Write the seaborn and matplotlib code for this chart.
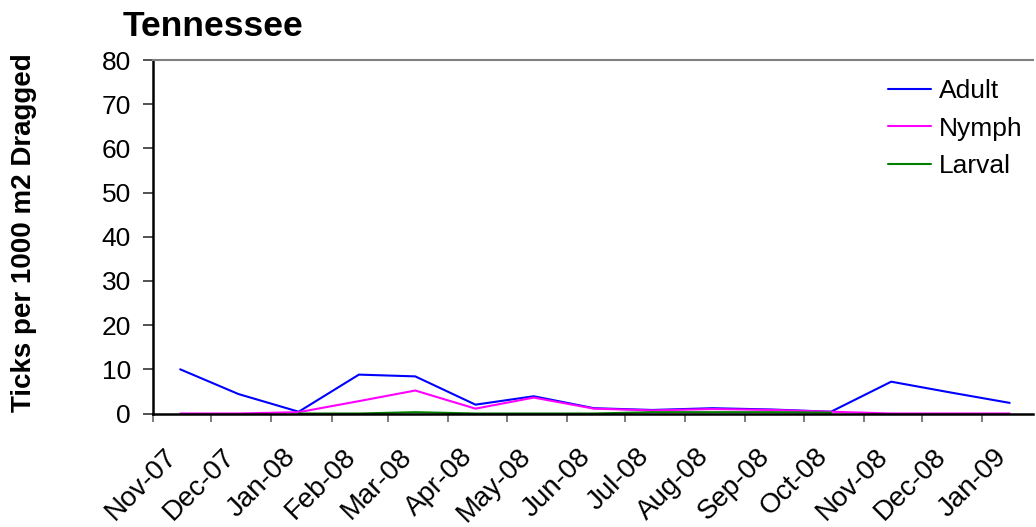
import numpy as np
import pandas as pd
import matplotlib
matplotlib.use("Agg")
import matplotlib.pyplot as plt
import matplotlib.dates as mdates
from matplotlib.transforms import ScaledTranslation
import seaborn as sns

# Monthly drag sampling dates (mid-month)
adult_dates = ["2007-11-15", "2007-12-15", "2008-01-15", "2008-02-15", "2008-03-15",
               "2008-04-15", "2008-05-15", "2008-06-15", "2008-07-15", "2008-08-15",
               "2008-09-15", "2008-10-15", "2008-11-15", "2008-12-15", "2009-01-15"]
adult_values = [10.0, 4.4, 0.4, 8.8, 8.4, 2.0, 3.9, 1.2, 0.8, 1.2, 0.9, 0.4, 7.2, 4.8, 2.4]

nymph_dates = adult_dates
nymph_values = [0.0, 0.0, 0.3, 2.8, 5.2, 1.1, 3.6, 1.1, 0.7, 1.0, 0.8, 0.4, 0.0, 0.0, 0.0]

larval_dates = ["2008-01-15", "2008-02-15", "2008-03-15", "2008-04-15", "2008-05-15",
                "2008-06-15", "2008-07-15", "2008-08-15", "2008-09-15", "2008-10-15"]
larval_values = [0.0, 0.0, 0.3, 0.0, 0.0, 0.0, 0.3, 0.3, 0.3, 0.2]

stages = ["Adult", "Nymph", "Larval"]
stage_colors = ["#0000FF", "#FF00FF", "#008000"]

title_text = "Tennessee"
y_label = "Ticks per 1000 m2 Dragged"
y_ticks = [0, 10, 20, 30, 40, 50, 60, 70, 80]

frames = []
for name, d, v in zip(stages, [adult_dates, nymph_dates, larval_dates],
                      [adult_values, nymph_values, larval_values]):
    frames.append(pd.DataFrame({"date": pd.to_datetime(d), "ticks": v, "stage": name}))
df = pd.concat(frames, ignore_index=True)

sns.set_theme(style="white")
plt.rcParams["font.family"] = ["Liberation Sans", "DejaVu Sans"]
plt.rcParams["text.color"] = "black"
plt.rcParams["xtick.color"] = "black"
plt.rcParams["ytick.color"] = "black"
plt.rcParams["axes.labelcolor"] = "black"

fig = plt.figure(figsize=(10.36, 5.27), dpi=100)
ax = fig.add_axes([153 / 1036, 1 - 413.5 / 527, (1033 - 153) / 1036, (413.5 - 60) / 527])

sns.lineplot(data=df, x="date", y="ticks", hue="stage", hue_order=stages,
             palette=dict(zip(stages, stage_colors)), linewidth=1.5, ax=ax,
             estimator=None, sort=True)

ax.set_ylim(0, 80)
ax.set_yticks(y_ticks)
ax.set_xlim(pd.Timestamp("2007-11-01"), pd.Timestamp("2009-01-27"))
ax.xaxis.set_major_locator(mdates.MonthLocator())
ax.xaxis.set_major_formatter(mdates.DateFormatter("%b-%y"))
ax.set_xlabel("")
ax.set_ylabel("")

ax.tick_params(axis="y", direction="out", length=7, width=1.2, color="#333333",
               labelsize=19, pad=9, left=True)
ax.tick_params(axis="x", direction="out", length=6, width=1.2, color="#666666",
               labelsize=20, pad=4, bottom=True)

offset = ScaledTranslation(0.11, -0.16, fig.dpi_scale_trans)
for lab in ax.get_xticklabels():
    lab.set_rotation(45)
    lab.set_ha("right")
    lab.set_va("top")
    lab.set_rotation_mode("anchor")
    lab.set_transform(lab.get_transform() + offset)

for side in ["left", "bottom"]:
    ax.spines[side].set_color("black")
    ax.spines[side].set_linewidth(1.8)
ax.spines["top"].set_color("#808080")
ax.spines["top"].set_linewidth(1.5)
ax.spines["right"].set_visible(False)

leg = ax.legend(loc="upper right", bbox_to_anchor=(1.0, 0.975), frameon=False,
                fontsize=19, handlelength=1.63, handletextpad=0.3, labelspacing=0.5,
                borderaxespad=0.0)
for line in leg.get_lines():
    line.set_linewidth(1.5)

fig.text(123 / 1036, 1 - 36 / 527, title_text, fontsize=25.5, fontweight="bold",
         ha="left", va="baseline")
fig.text(24 / 1036, 1 - 233 / 527, y_label, fontsize=20, fontweight="bold",
         rotation=90, ha="center", va="center")

fig.savefig("out.png", dpi=100, facecolor="white")
